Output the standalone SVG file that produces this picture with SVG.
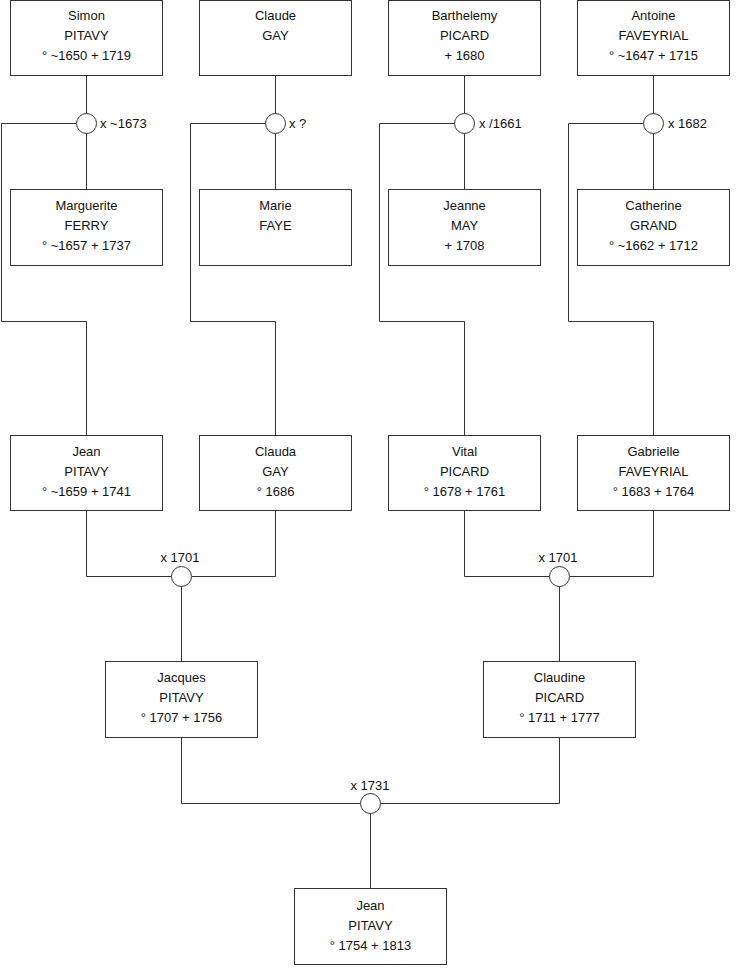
<svg xmlns="http://www.w3.org/2000/svg" width="740" height="975" viewBox="0 0 740 975">
<style>
.box{fill:#fff;stroke:#333;stroke-width:1}
.t{font-family:"Liberation Sans",Arial,sans-serif;font-size:13px;fill:#111;text-anchor:middle}
.l{font-family:"Liberation Sans",Arial,sans-serif;font-size:13px;fill:#111}
.c{fill:#fff;stroke:#333;stroke-width:1}
.w{fill:none;stroke:#333;stroke-width:1}
</style>
<rect width="740" height="975" fill="#fff"/>
<g id="connectors">
<path class="w" d="M86.5 75.5V113.5M86.5 133.5V189.5M76.5 123.5H1.5V321.5H86.5V435.5"/>
<path class="w" d="M275.5 75.5V113.5M275.5 133.5V189.5M265.5 123.5H190.5V321.5H275.5V435.5"/>
<path class="w" d="M464.5 75.5V113.5M464.5 133.5V189.5M454.5 123.5H379.5V321.5H464.5V435.5"/>
<path class="w" d="M653.5 75.5V113.5M653.5 133.5V189.5M643.5 123.5H568.5V321.5H653.5V435.5"/>
<path class="w" d="M86.5 510.5V576.5H171.5M275.5 510.5V576.5H191.5M181.5 586.5V661.5"/>
<path class="w" d="M464.5 510.5V576.5H549.5M653.5 510.5V576.5H569.5M559.5 586.5V661.5"/>
<path class="w" d="M181.5 737.5V803.5H360.5M559.5 737.5V803.5H380.5M370.5 813.5V888.5"/>
<circle class="c" cx="86.5" cy="123.5" r="10"/>
<circle class="c" cx="275.5" cy="123.5" r="10"/>
<circle class="c" cx="464.5" cy="123.5" r="10"/>
<circle class="c" cx="653.5" cy="123.5" r="10"/>
<circle class="c" cx="181.5" cy="576.5" r="10"/>
<circle class="c" cx="559.5" cy="576.5" r="10"/>
<circle class="c" cx="370.5" cy="803.5" r="10"/>
<text class="l" x="100" y="128">x ~1673</text>
<text class="l" x="289" y="128">x ?</text>
<text class="l" x="479" y="128">x /1661</text>
<text class="l" x="668" y="128">x 1682</text>
<text class="t" x="180" y="562">x 1701</text>
<text class="t" x="558" y="562">x 1701</text>
<text class="t" x="370" y="790">x 1731</text>
</g>
<g id="simon"><rect class="box" x="10.5" y="0.5" width="152" height="75"/><text class="t" x="86.5" y="20">Simon</text><text class="t" x="86.5" y="40">PITAVY</text><text class="t" x="86.5" y="60">° ~1650 + 1719</text></g>
<g id="claude"><rect class="box" x="199.5" y="0.5" width="152" height="75"/><text class="t" x="275.5" y="20">Claude</text><text class="t" x="275.5" y="40">GAY</text></g>
<g id="barthelemy"><rect class="box" x="388.5" y="0.5" width="152" height="75"/><text class="t" x="464.5" y="20">Barthelemy</text><text class="t" x="464.5" y="40">PICARD</text><text class="t" x="464.5" y="60">+ 1680</text></g>
<g id="antoine"><rect class="box" x="577.5" y="0.5" width="152" height="75"/><text class="t" x="653.5" y="20">Antoine</text><text class="t" x="653.5" y="40">FAVEYRIAL</text><text class="t" x="653.5" y="60">° ~1647 + 1715</text></g>
<g id="marguerite"><rect class="box" x="10.5" y="189.5" width="152" height="76"/><text class="t" x="86.5" y="210">Marguerite</text><text class="t" x="86.5" y="230">FERRY</text><text class="t" x="86.5" y="250">° ~1657 + 1737</text></g>
<g id="marie"><rect class="box" x="199.5" y="189.5" width="152" height="76"/><text class="t" x="275.5" y="210">Marie</text><text class="t" x="275.5" y="230">FAYE</text></g>
<g id="jeanne"><rect class="box" x="388.5" y="189.5" width="152" height="76"/><text class="t" x="464.5" y="210">Jeanne</text><text class="t" x="464.5" y="230">MAY</text><text class="t" x="464.5" y="250">+ 1708</text></g>
<g id="catherine"><rect class="box" x="577.5" y="189.5" width="152" height="76"/><text class="t" x="653.5" y="210">Catherine</text><text class="t" x="653.5" y="230">GRAND</text><text class="t" x="653.5" y="250">° ~1662 + 1712</text></g>
<g id="jean1"><rect class="box" x="10.5" y="435.5" width="152" height="75"/><text class="t" x="86.5" y="455.5">Jean</text><text class="t" x="86.5" y="475.5">PITAVY</text><text class="t" x="86.5" y="495.5">° ~1659 + 1741</text></g>
<g id="clauda"><rect class="box" x="199.5" y="435.5" width="152" height="75"/><text class="t" x="275.5" y="455.5">Clauda</text><text class="t" x="275.5" y="475.5">GAY</text><text class="t" x="275.5" y="495.5">° 1686</text></g>
<g id="vital"><rect class="box" x="388.5" y="435.5" width="152" height="75"/><text class="t" x="464.5" y="455.5">Vital</text><text class="t" x="464.5" y="475.5">PICARD</text><text class="t" x="464.5" y="495.5">° 1678 + 1761</text></g>
<g id="gabrielle"><rect class="box" x="577.5" y="435.5" width="152" height="75"/><text class="t" x="653.5" y="455.5">Gabrielle</text><text class="t" x="653.5" y="475.5">FAVEYRIAL</text><text class="t" x="653.5" y="495.5">° 1683 + 1764</text></g>
<g id="jacques"><rect class="box" x="105.5" y="661.5" width="152" height="76"/><text class="t" x="181.5" y="682">Jacques</text><text class="t" x="181.5" y="702">PITAVY</text><text class="t" x="181.5" y="722">° 1707 + 1756</text></g>
<g id="claudine"><rect class="box" x="483.5" y="661.5" width="152" height="76"/><text class="t" x="559.5" y="682">Claudine</text><text class="t" x="559.5" y="702">PICARD</text><text class="t" x="559.5" y="722">° 1711 + 1777</text></g>
<g id="jean2"><rect class="box" x="294.5" y="888.5" width="152" height="76"/><text class="t" x="370.5" y="910">Jean</text><text class="t" x="370.5" y="930">PITAVY</text><text class="t" x="370.5" y="950">° 1754 + 1813</text></g>
</svg>
